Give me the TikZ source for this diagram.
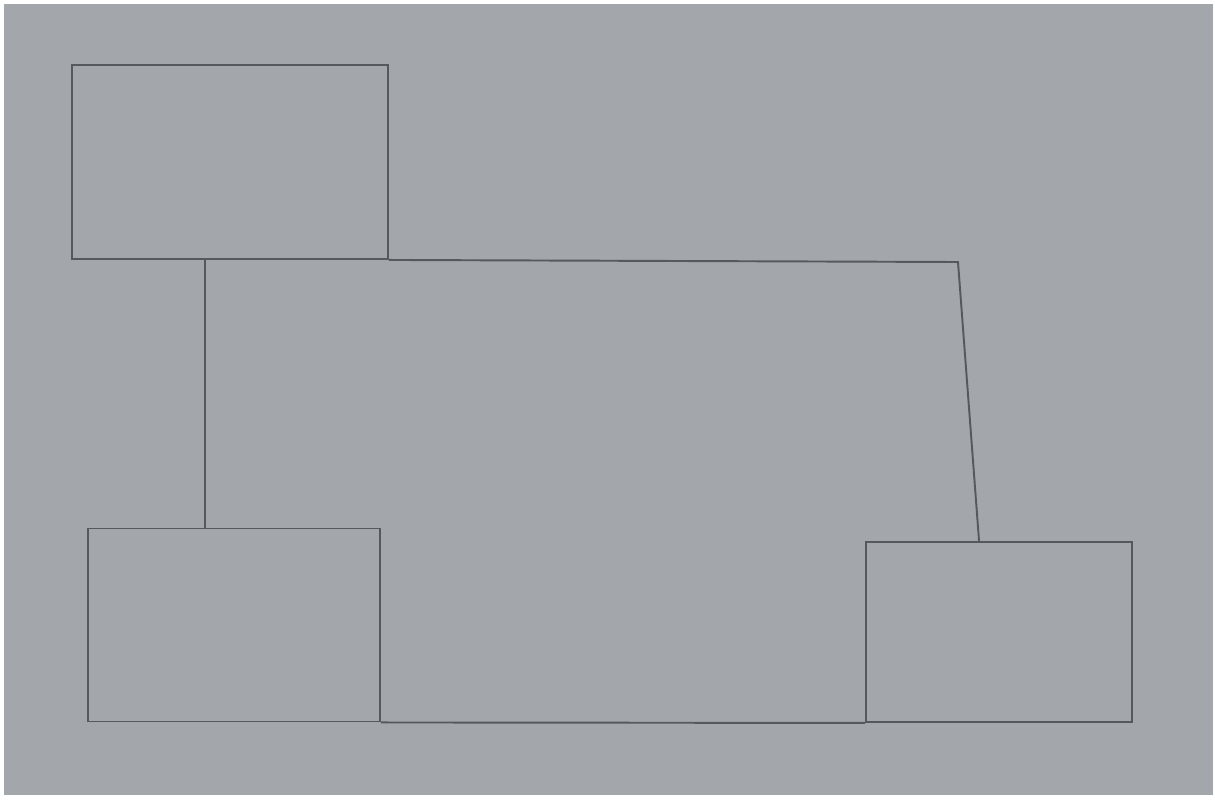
\documentclass[tikz,border=0pt]{standalone}
\usetikzlibrary{positioning, calc}
\definecolor{paper}{HTML}{A3A7AB}
\definecolor{pencil}{HTML}{55585C}

\begin{document}
\begin{tikzpicture}[
        x=0.02cm, y=-0.02cm,
        box/.style={draw=pencil, line width=1.1pt, inner sep=0pt},
        link/.style={draw=pencil, line width=1.1pt},
    ]
        % paper
        \fill[white] (0,0) rectangle (1215,799);
        \fill[paper] (4,4) rectangle (1213,795);

        \node[box, minimum width=6.32cm, minimum height=3.88cm] (top)
            at (230,162) {};
        \node[box, minimum width=5.84cm, minimum height=3.86cm] (left)
            at (234,625) {};
        \node[box, minimum width=5.32cm, minimum height=3.6cm] (right)
            at (999,632) {};

        \coordinate (corner) at (958,262);
        \coordinate (drop) at (205,259);

        \draw[link] (top.south east) -- (corner) -- ($(right.north west)+(114,0)$);
        \draw[link] (drop) -- (drop |- left.north);
        \draw[link] (left.south east) -- (right.south west);
    \end{tikzpicture}
\end{document}
